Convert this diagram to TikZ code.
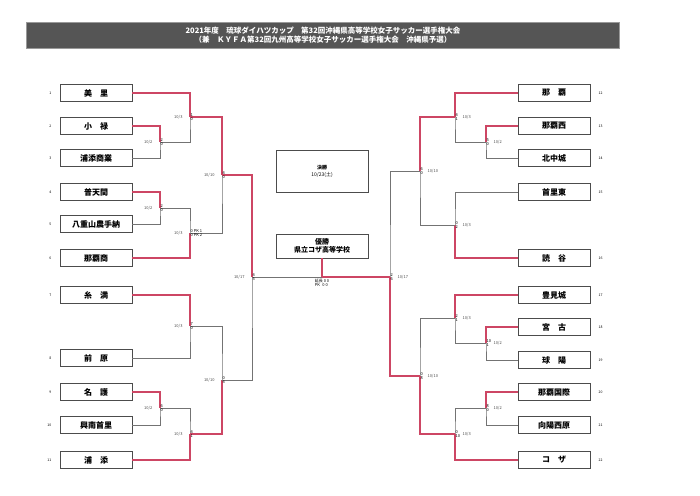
\documentclass[tikz,border=0pt]{standalone}
\usepackage{fontspec}
\setmainfont{Noto Sans CJK JP}
\usetikzlibrary{positioning}
\definecolor{winred}{RGB}{205,70,100}
\definecolor{barfill}{RGB}{85,85,85}
\tikzset{
  team/.style={draw=black!70,minimum width=72pt,minimum height=17pt,inner sep=0pt,font=\footnotesize\bfseries},
  seed/.style={font=\fontsize{3.5}{4}\selectfont},
  line/.style={draw=black!55,line width=0.6pt},
  win/.style={draw=winred,line width=1.1pt},
  sc/.style={font=\fontsize{4}{4.5}\selectfont,inner sep=0.5pt},
  day/.style={font=\fontsize{4}{4.5}\selectfont,text=black!70}
}
\newcommand{\bout}[5]{% junction, first, second, winner, date
  \draw[line] (#2) -| (#1) |- (#3);
  \draw[win] (#4) -| (#1);
}
\begin{document}
\begin{tikzpicture}[x=1pt,y=-1pt]
\useasboundingbox (0,0) rectangle (700,495);
% title bar
\node[fill=barfill,draw=black!40,minimum width=593pt,minimum height=26pt,text=white,align=center,
  font=\fontsize{7.5}{9}\selectfont\bfseries] (title) at (323,35)
  {2021年度\quad 琉球ダイハツカップ\quad 第32回沖縄県高等学校女子サッカー選手権大会\\
   （兼\quad ＫＹＦＡ第32回九州高等学校女子サッカー選手権大会\quad 沖縄県予選）};
% teams left
\foreach \n/\t/\y in {1/美\quad 里/93,2/小\quad 禄/126,3/浦添商業/158,4/普天間/192,5/八重山農手納/224,
  6/那覇商/258,7/糸\quad 満/295,8/前\quad 原/358,9/名\quad 護/392,10/興南首里/425,11/浦\quad 添/460}
  {\node[team] (L\n) at (96,\y) {\t};
   \node[seed,left=5pt of L\n] {\n};}
% teams right
\foreach \n/\t/\y in {12/那\quad 覇/93,13/那覇西/126,14/北中城/158,15/首里東/192,16/読\quad 谷/258,
  17/豊見城/295,18/宮\quad 古/327,19/球\quad 陽/360,20/那覇国際/392,21/向陽西原/425,22/コ\quad ザ/460}
  {\node[team] (R\n) at (554,\y) {\t};
   \node[seed,right=5pt of R\n] {\n};}
% junctions left
\coordinate (m1) at (160,142);  \coordinate (m2) at (190,117);
\coordinate (m3) at (160,208);  \coordinate (m4) at (190,233);
\coordinate (m5) at (222,175);  \coordinate (m6) at (190,326);
\coordinate (m7) at (160,408);  \coordinate (m8) at (190,434);
\coordinate (m9) at (222,380);  \coordinate (m10) at (252,277);
% junctions right
\coordinate (r1) at (486,142);  \coordinate (r2) at (455,117);
\coordinate (r3) at (455,225);  \coordinate (r4) at (420,171);
\coordinate (r5) at (486,343);  \coordinate (r6) at (455,318);
\coordinate (r7) at (486,408);  \coordinate (r8) at (455,434);
\coordinate (r9) at (420,376);  \coordinate (r10) at (390,277);
% left bracket
\bout{m1}{L2.east}{L3.east}{L2.east}{}
\bout{m2}{L1.east}{m1}{L1.east}{}
\bout{m3}{L4.east}{L5.east}{L4.east}{}
\bout{m4}{m3}{L6.east}{L6.east}{}
\bout{m5}{m2}{m4}{m2}{}
\bout{m6}{L7.east}{L8.east}{L7.east}{}
\bout{m7}{L9.east}{L10.east}{L9.east}{}
\bout{m8}{m7}{L11.east}{L11.east}{}
\bout{m9}{m6}{m8}{m8}{}
\bout{m10}{m5}{m9}{m5}{}
% right bracket
\bout{r1}{R13.west}{R14.west}{R13.west}{}
\bout{r2}{R12.west}{r1}{R12.west}{}
\bout{r3}{R15.west}{R16.west}{R16.west}{}
\bout{r4}{r2}{r3}{r2}{}
\bout{r5}{R18.west}{R19.west}{R18.west}{}
\bout{r6}{R17.west}{r5}{R17.west}{}
\bout{r7}{R20.west}{R21.west}{R20.west}{}
\bout{r8}{r7}{R22.west}{R22.west}{}
\bout{r9}{r6}{r8}{r8}{}
\bout{r10}{r4}{r9}{r9}{}
% final
\node[draw=black!70,minimum width=92pt,minimum height=42pt,align=center,
  font=\fontsize{5}{7}\selectfont] (final) at (322,171) {{\bfseries 決勝}\\10/23(土)};
\node[draw=black!70,minimum width=92pt,minimum height=24pt,align=center,
  font=\fontsize{7}{8}\selectfont\bfseries] (champ) at (322,246) {優勝\\県立コザ高等学校};
\coordinate (f) at (322,277);
\draw[line] (m10) -- (r10);
\draw[win] (f) -- (r10);
\draw[win] (champ.south) -- (f);
\node[sc,align=left,below=1pt of f] (extra) {延長\ 0\ 0\\PK\ \ \,0\ 0};
% dates
\foreach \c/\d in {m1/{10/2},m3/{10/2},m7/{10/2},m2/{10/3},m4/{10/3},m6/{10/3},m8/{10/3},m5/{10/10},m9/{10/10},m10/{10/17}}
  \node[day,left=4pt of \c] {\d};
\foreach \c/\d in {r1/{10/2},r5/{10/2},r7/{10/2},r2/{10/3},r3/{10/3},r6/{10/3},r8/{10/3},r4/{10/10},r9/{10/10},r10/{10/17}}
  \node[day,right=4pt of \c] {\d};
% scores
\foreach \c/\a/\b in {m1/2/0,m2/1/0,m3/2/0,m4/0 PK 1/0 PK 2,m5/4/0,m6/7/0,m7/6/0,m8/4/1,m9/0/4,m10/4/5,
  r1/5/0,r2/4/1,r3/0/2,r4/6/0,r5/10/1,r6/2/1,r7/8/0,r8/0/10,r9/0/8,r10/2/6}
  {\node[sc,anchor=south west] at (\c) {\a};
   \node[sc,anchor=north west] at (\c) {\b};}
\end{tikzpicture}
\end{document}
